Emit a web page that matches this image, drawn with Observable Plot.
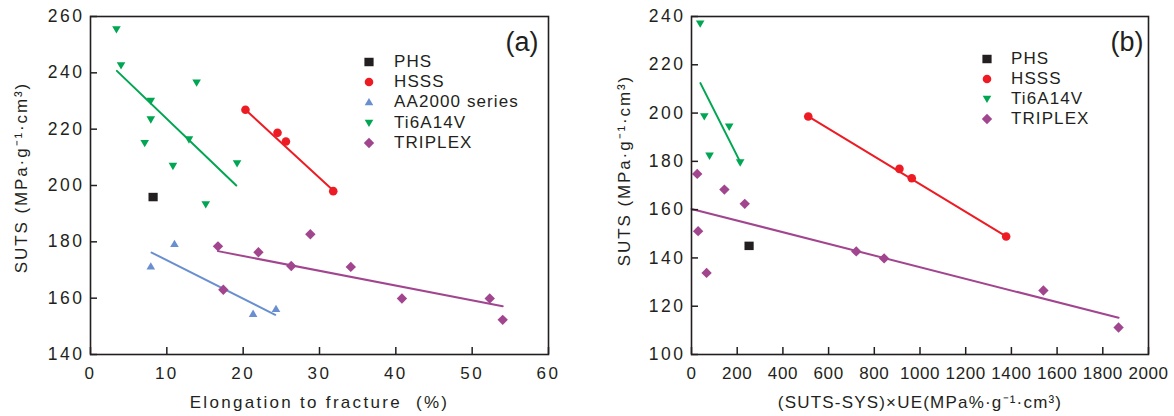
<!DOCTYPE html>
<html>
<head>
<meta charset="utf-8">
<script src="https://cdn.jsdelivr.net/npm/d3@7"></script>
<script src="https://cdn.jsdelivr.net/npm/@observablehq/plot@0.6"></script>
<style>
  body { margin: 0; background: #fff; }
  #wrap { position: relative; width: 1174px; height: 416px; display: flex; font-family: "Liberation Sans", Arial, sans-serif; color: #231f20; }
  #wrap svg { display: block; }
  .lg { position: absolute; font-size: 17px; line-height: 20px; letter-spacing: 1.1px; white-space: nowrap; color: #231f20; }
  .ls { position: absolute; overflow: visible; }
</style>
</head>
<body>
<div id="wrap"><div id="pa"></div><div id="pb"></div></div>
<script>
// ---------- series ----------
const names = ["PHS", "HSSS", "AA2000 series", "Ti6A14V", "TRIPLEX"];
const colors = ["#231f20", "#ed1c24", "#6a8fd0", "#00a651", "#a2458f"];

// ---------- panel (a): Elongation to fracture (%) vs SUTS ----------
const aXTicks = [0, 10, 20, 30, 40, 50, 60];
const aYTicks = [140, 160, 180, 200, 220, 240, 260];
const aPHS_x = [8.2];
const aPHS_y = [195.9];
const aHSSS_x = [20.3, 24.5, 25.6, 31.8];
const aHSSS_y = [226.9, 218.7, 215.6, 198.0];
const aAA_x = [7.9, 11.0, 21.3, 24.3];
const aAA_y = [171.3, 179.3, 154.5, 156.2];
const aTi_x = [3.4, 4.0, 7.9, 7.9, 7.1, 10.8, 13.9, 12.9, 19.2, 15.1];
const aTi_y = [255.4, 242.6, 230.0, 223.4, 215.0, 206.9, 236.5, 216.3, 207.8, 193.3];
const aTRIPLEX_x = [16.7, 17.4, 22.0, 26.3, 28.8, 34.1, 40.8, 52.3, 54.0];
const aTRIPLEX_y = [178.4, 163.0, 176.3, 171.4, 182.7, 171.1, 159.9, 159.9, 152.3];
// linear fits (end points)
const aFitHSSS_x = [20.3, 31.8], aFitHSSS_y = [226.9, 198.2];
const aFitAA_x = [8.0, 24.2], aFitAA_y = [176.2, 154.1];
const aFitTi_x = [3.45, 19.1], aFitTi_y = [240.7, 200.0];
const aFitTRIPLEX_x = [16.7, 54.0], aFitTRIPLEX_y = [176.7, 157.1];

// ---------- panel (b): (SUTS-SYS)×UE vs SUTS ----------
const bXTicks = [0, 200, 400, 600, 800, 1000, 1200, 1400, 1600, 1800, 2000];
const bYTicks = [100, 120, 140, 160, 180, 200, 220, 240];
const bPHS_x = [252];
const bPHS_y = [145.0];
const bHSSS_x = [511, 910, 964, 1377];
const bHSSS_y = [198.6, 176.9, 173.0, 148.9];
const bTi_x = [38, 56, 79, 165, 213];
const bTi_y = [237.0, 198.6, 182.3, 194.3, 179.5];
const bTRIPLEX_x = [25, 144, 233, 29, 66, 721, 843, 1540, 1869];
const bTRIPLEX_y = [174.8, 168.3, 162.4, 151.1, 133.8, 142.7, 139.8, 126.5, 111.2];
const bFitHSSS_x = [511, 1377], bFitHSSS_y = [198.6, 148.9];
const bFitTi_x = [39, 213], bFitTi_y = [212.4, 179.8];
const bFitTRIPLEX_x = [0, 1869], bFitTRIPLEX_y = [160.3, 115.2];

const yLabel = "SUTS (MPa·g⁻¹·cm³)";
const aXLabel = "Elongation to fracture  (%)";
const bXLabel = "(SUTS-SYS)×UE(MPa%·g⁻¹·cm³)";

// ---------- symbols ----------
const R = s => Math.sqrt(s / Math.PI);
const symSquare = {draw(c, s) { const r = R(s); c.rect(-r, -r * 0.92, 2 * r, 1.84 * r); }};
const symCircle = {draw(c, s) { const r = R(s); c.moveTo(r, 0); c.arc(0, 0, r, 0, 2 * Math.PI); }};
const symUp = {draw(c, s) { const r = R(s); c.moveTo(-r, 0.75 * r); c.lineTo(r, 0.75 * r); c.lineTo(0, -0.95 * r); c.closePath(); }};
const symDown = {draw(c, s) { const r = R(s); c.moveTo(-r, -0.75 * r); c.lineTo(r, -0.75 * r); c.lineTo(0, 0.95 * r); c.closePath(); }};
const symDiamond = {draw(c, s) { const r = R(s); c.moveTo(0, -r); c.lineTo(r, 0); c.lineTo(0, r); c.lineTo(-r, 0); c.closePath(); }};
const symbols = {"PHS": symSquare, "HSSS": symCircle, "AA2000 series": symUp, "Ti6A14V": symDown, "TRIPLEX": symDiamond};
const radii = {"PHS": 4.6, "HSSS": 4.3, "AA2000 series": 4.3, "Ti6A14V": 4.3, "TRIPLEX": 5.2};
const colorOf = n => colors[names.indexOf(n)];

const rows = (xs, ys) => xs.map((x, i) => ({x, y: ys[i]}));

function panel(o) {
  const W = 587, H = 416, mt = 16, mb = 62;
  const pw = W - o.ml - o.mr, ph = H - mt - mb;
  const marks = [];
  for (const f of o.fits) {
    marks.push(Plot.line(rows(f.x, f.y), {x: "x", y: "y", stroke: colorOf(f.name), strokeWidth: 2}));
  }
  for (const p of o.points) {
    marks.push(Plot.dot(rows(p.x, p.y), {x: "x", y: "y", symbol: symbols[p.name], r: radii[p.name], fill: colorOf(p.name), stroke: "none"}));
  }
  marks.push(
    Plot.ruleX(o.xTicks, {x: d => d, insetTop: ph - 7, stroke: "#231f20", strokeWidth: 1.5}),
    Plot.ruleY(o.yTicks, {y: d => d, insetRight: pw - 7, stroke: "#231f20", strokeWidth: 1.5}),
    Plot.axisX(o.xTicks, {tickSize: 0, tickPadding: 12, label: null, fill: "#231f20", tickFormat: d => String(d)}),
    Plot.axisY(o.yTicks, {tickSize: 0, tickPadding: 6, label: null, fill: "#231f20", tickFormat: d => String(d), fontSize: 17.5}),
    Plot.frame({stroke: "#231f20", strokeWidth: 1.6}),
    Plot.text([o.tag], {frameAnchor: "top-right", textAnchor: "end", lineAnchor: "middle", dx: o.tagDx, dy: 26, fontSize: 27, fill: "#231f20"}),
    Plot.text([o.xLabel], {frameAnchor: "bottom", textAnchor: "middle", lineAnchor: "middle", dy: 48, fontSize: 17, fill: "#231f20"}),
    Plot.text([yLabel], {frameAnchor: "left", rotate: -90, textAnchor: "middle", lineAnchor: "middle", dx: o.ylDx, dy: o.ylDy, fontSize: 17, fill: "#231f20"})
  );
  const svg = Plot.plot({
    width: W, height: H,
    marginLeft: o.ml, marginRight: o.mr, marginTop: mt, marginBottom: mb,
    x: {domain: o.xDomain},
    y: {domain: o.yDomain},
    style: {fontFamily: "'Liberation Sans', Arial, sans-serif", fontSize: "17px", background: "#fff", color: "#231f20", overflow: "visible"},
    marks
  });
  // letter spacing to match the reference typography
  svg.querySelectorAll('g[aria-label="y-axis tick label"] text').forEach(t => t.style.letterSpacing = "2.5px");
  svg.querySelectorAll('g[aria-label="x-axis tick label"] text').forEach(t => t.style.letterSpacing = o.xTickLS);
  svg.querySelectorAll("text").forEach(t => {
    if (t.textContent === o.xLabel) t.style.letterSpacing = o.xLabLS;
    if (t.textContent === yLabel) t.style.letterSpacing = "1.9px";
  });
  return svg;
}

document.getElementById("pa").append(panel({
  ml: 90, mr: 39, xDomain: [0, 60], yDomain: [140, 260], xTicks: aXTicks, yTicks: aYTicks,
  tag: "(a)", tagDx: -10, xLabel: aXLabel, ylDx: -69, ylDy: -8, xTickLS: "2.5px", xLabLS: "2.3px",
  points: [
    {name: "PHS", x: aPHS_x, y: aPHS_y},
    {name: "HSSS", x: aHSSS_x, y: aHSSS_y},
    {name: "AA2000 series", x: aAA_x, y: aAA_y},
    {name: "Ti6A14V", x: aTi_x, y: aTi_y},
    {name: "TRIPLEX", x: aTRIPLEX_x, y: aTRIPLEX_y}
  ],
  fits: [
    {name: "HSSS", x: aFitHSSS_x, y: aFitHSSS_y},
    {name: "AA2000 series", x: aFitAA_x, y: aFitAA_y},
    {name: "Ti6A14V", x: aFitTi_x, y: aFitTi_y},
    {name: "TRIPLEX", x: aFitTRIPLEX_x, y: aFitTRIPLEX_y}
  ]
}));

document.getElementById("pb").append(panel({
  ml: 104, mr: 26, xDomain: [0, 2000], yDomain: [100, 240], xTicks: bXTicks, yTicks: bYTicks,
  tag: "(b)", tagDx: -5, xLabel: bXLabel, ylDx: -67, ylDy: -15, xTickLS: "0.6px", xLabLS: "1.2px",
  points: [
    {name: "PHS", x: bPHS_x, y: bPHS_y},
    {name: "HSSS", x: bHSSS_x, y: bHSSS_y},
    {name: "Ti6A14V", x: bTi_x, y: bTi_y},
    {name: "TRIPLEX", x: bTRIPLEX_x, y: bTRIPLEX_y}
  ],
  fits: [
    {name: "HSSS", x: bFitHSSS_x, y: bFitHSSS_y},
    {name: "Ti6A14V", x: bFitTi_x, y: bFitTi_y},
    {name: "TRIPLEX", x: bFitTRIPLEX_x, y: bFitTRIPLEX_y}
  ]
}));

// ---------- legends ----------
function legend(entries, symX, textX, y0, step) {
  const wrap = document.getElementById("wrap");
  entries.forEach((n, i) => {
    const cy = y0 + i * step;
    const svg = d3.create("svg").attr("class", "ls").attr("width", 16).attr("height", 16)
      .style("left", (symX - 8) + "px").style("top", (cy - 8) + "px");
    svg.append("path").attr("transform", "translate(8,8)")
      .attr("d", d3.symbol().type(symbols[n]).size(Math.PI * radii[n] * radii[n])())
      .attr("fill", colorOf(n));
    wrap.append(svg.node());
    const t = document.createElement("div");
    t.className = "lg";
    t.textContent = n;
    t.style.left = textX + "px";
    t.style.top = (cy - 10) + "px";
    wrap.append(t);
  });
}
legend(names, 369, 394, 62, 20.2);
legend(["PHS", "HSSS", "Ti6A14V", "TRIPLEX"], 987, 1011, 59, 20);
</script>
</body>
</html>
